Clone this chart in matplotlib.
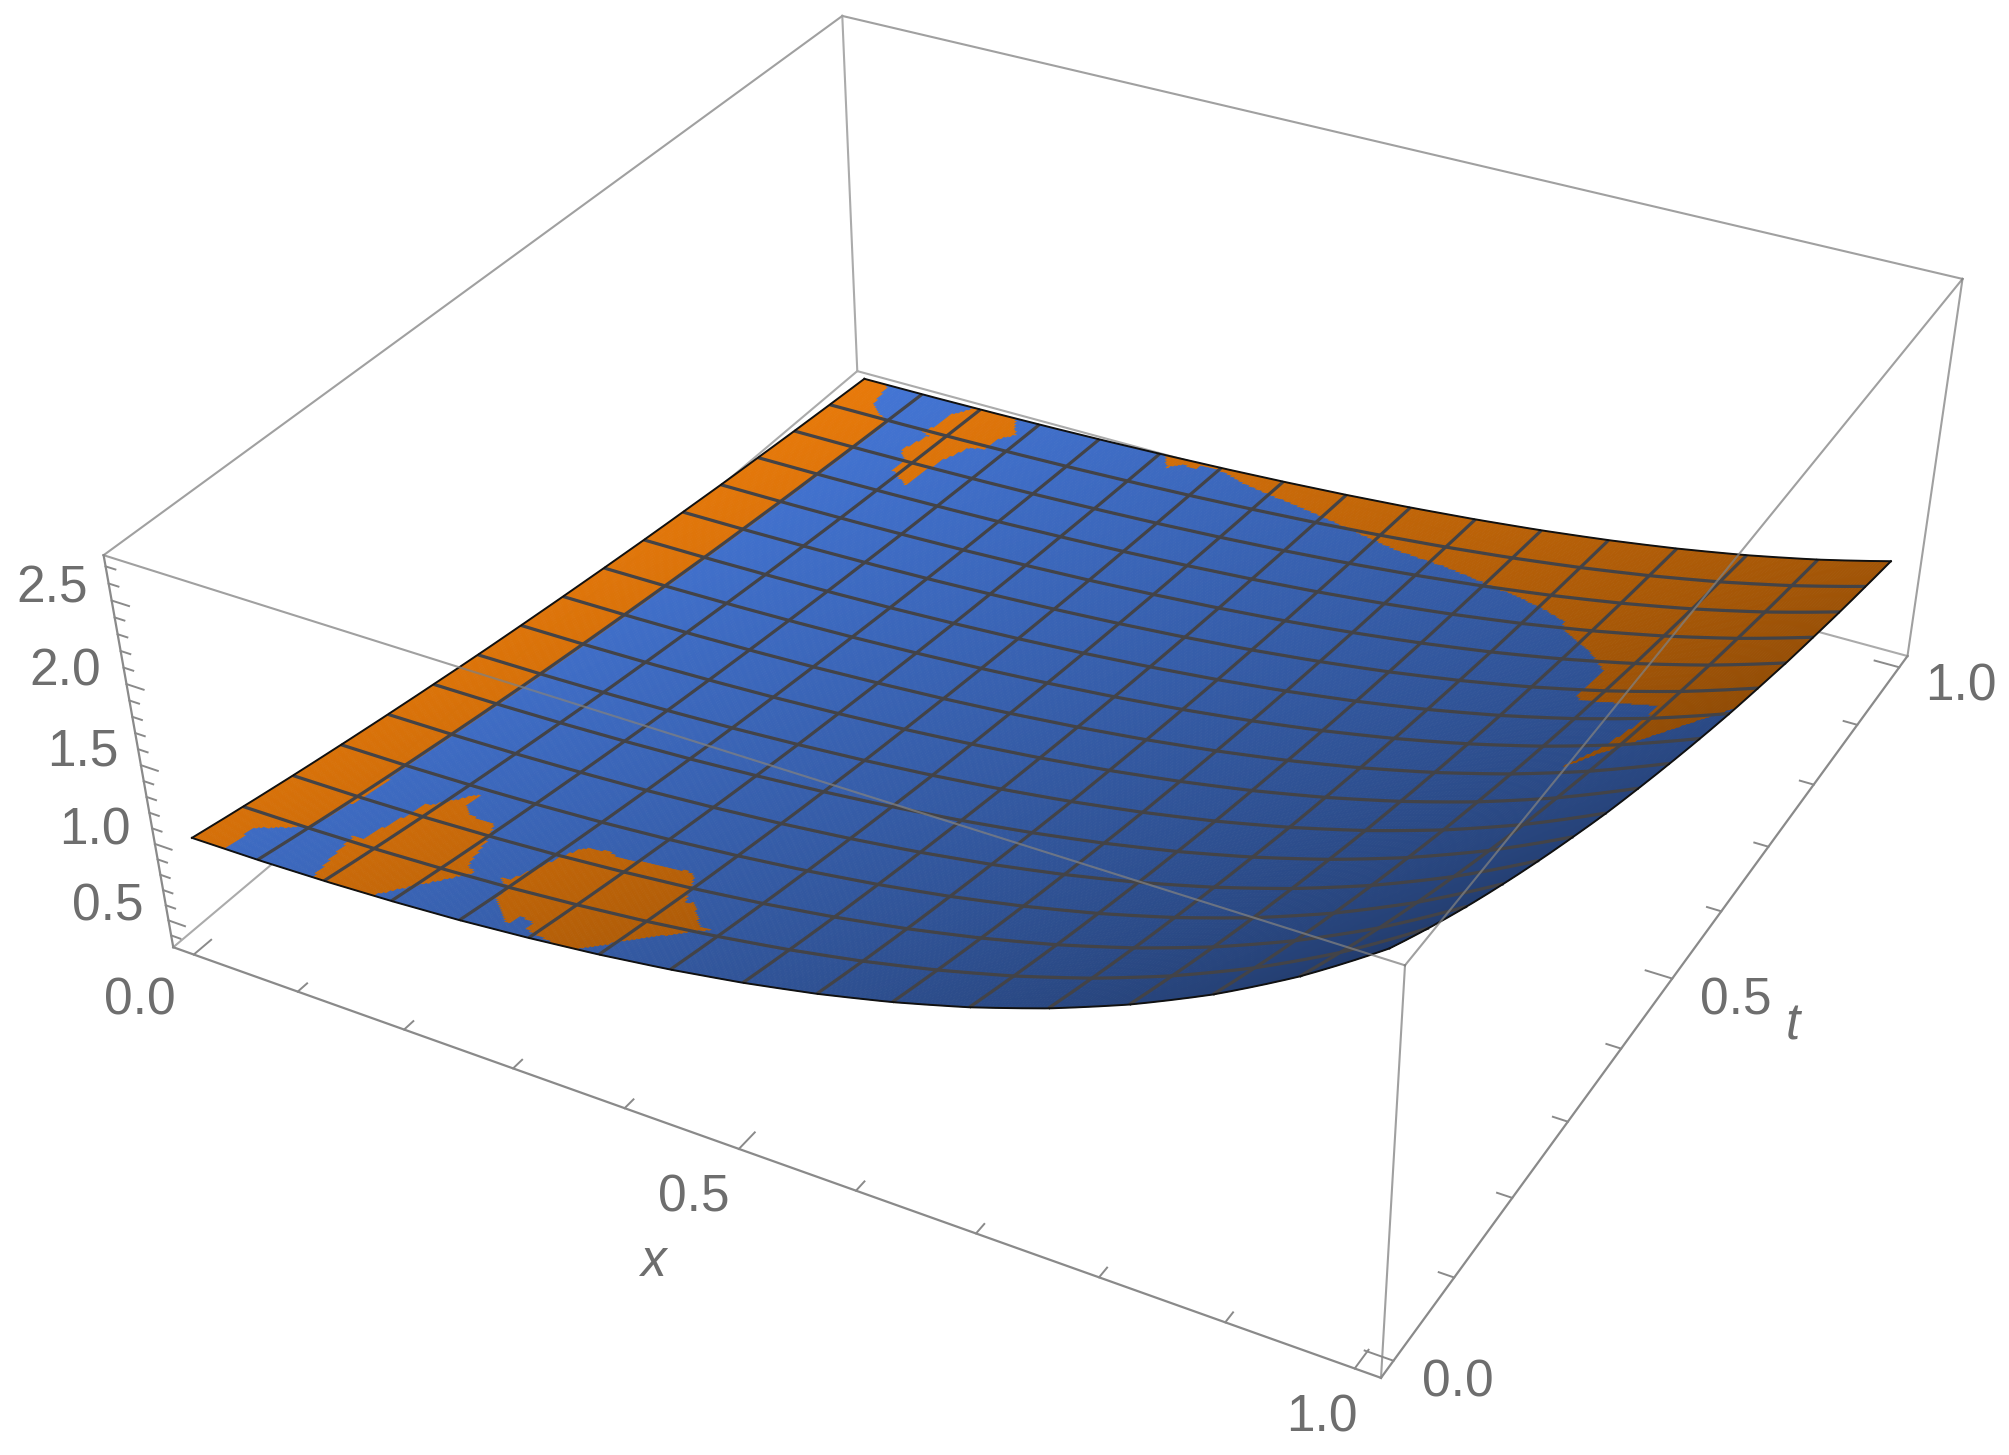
import numpy as np
import matplotlib
matplotlib.use("Agg")
import matplotlib.pyplot as plt
from matplotlib.path import Path
from mpl_toolkits.mplot3d.art3d import Poly3DCollection

W_PX, H_PX = 2009, 1455

# Surface height read along the two front edges, at each of the 17 mesh nodes
height_along_x = [1.000,1.004,1.016,1.036,1.064,1.103,1.151,1.211,1.284,1.372,1.478,1.604,1.755,1.935,2.150,2.408,2.718]
decay_along_t = [1.000,0.939,0.882,0.829,0.779,0.732,0.687,0.646,0.607,0.570,0.535,0.503,0.472,0.444,0.417,0.392,0.368]

# Regions where the orange sheet shows, in mesh-cell units (x cell, t cell)
orange_left_strip = [(0,0),(0.5,0),(0.47,0.62),(1.0,1.03),(1.08,2),(1.05,3),(1.05,8),(1.05,13),(1.05,14.95),(0.8,15.1),(0.55,15.36),(0.42,16),(0,16)]
orange_top_patch = [(1.91,16),(1.72,15.63),(1.71,15.22),(1.64,14.92),(1.78,14.87),(1.66,14.26),(1.86,14.05),(1.87,13.66),(2.31,13.32),(2.30,13.71),(2.32,14.19),(2.49,14.83),(2.69,14.88),(2.69,15.21),(2.86,15.52),(2.6,16)]
orange_right = [(5.08,16),(5.31,15.64),(5.49,15.84),(5.68,15.76),(5.72,15.91),(6.05,15.90),(6.47,15.70),(8.0,15.2),(9.48,14.61),(10.26,14.39),(10.8,14.17),(11.46,13.87),(12,13.59),(12.54,13.19),(12.59,12.97),(13.04,12.54),(13.35,12.18),(13.72,11.66),(13.72,10.78),(13.8,10.64),(14.9,10.46),(14.95,10),(14.8,8.9),(14.55,8.1),(14.85,8.65),(16,10.2),(16,16)]
orange_low_left = [(1.83,0),(1.72,0.51),(1.6,1.12),(1.73,1.14),(1.84,2.06),(1.84,2.27),(1.92,2.32),(2.27,2.86),(2.3,2.5),(2.51,2.32),(2.89,2.27),(3.02,2.01),(3.25,1.21),(3.43,1.11),(3.33,0.94),(2.72,0)]
orange_low_mid = [(3.75,1.18),(3.9,1.15),(4.11,2.0),(4.21,2.30),(4.56,2.38),(4.68,2.29),(5.71,2.36),(5.85,2.27),(6.14,1.62),(6.24,1.67),(6.67,1.13),(6.84,1.12),(6.15,0.52),(5.71,0.0),(5.34,0.0),(4.84,0.17),(4.85,0.32),(4.58,0.44),(4.56,0.18),(4.07,0.64),(3.98,0.99)]
orange_regions = [orange_left_strip, orange_top_patch, orange_right, orange_low_left, orange_low_mid]

# Axis ticks
z_major = [0.5, 1.0, 1.5, 2.0, 2.5]
z_minor = [0.4,0.6,0.7,0.8,0.9,1.1,1.2,1.3,1.4,1.6,1.7,1.8,1.9,2.1,2.2,2.3,2.4,2.6,2.7]
xt_major = [0.0, 0.5, 1.0]
xt_minor = [0.1,0.2,0.3,0.4,0.6,0.7,0.8,0.9]
x_lo, x_hi, t_lo, t_hi = -0.02, 1.02, -0.02, 1.02
z_lo, z_hi = 0.321, 2.765

BLUE = np.array([68, 118, 214]) / 255
ORANGE = np.array([232, 122, 10]) / 255
# brightness at the surface corners: rows t=0,1; columns x=0,1
shade_corners = np.array([[0.92, 0.50], [1.00, 0.70]])

# Camera calibration: box and surface corners located on the picture
calib = [
 ((x_lo,t_lo,z_lo),(172,948)), ((x_lo,t_lo,z_hi),(104,554)),
 ((x_hi,t_lo,z_lo),(1384,1377)), ((x_hi,t_lo,z_hi),(1411,963)),
 ((x_hi,t_hi,z_lo),(1907,656)), ((x_hi,t_hi,z_hi),(1964,279)),
 ((x_lo,t_hi,z_lo),(858,371)), ((x_lo,t_hi,z_hi),(843,16)),
 ((0,0,1.0),(193,838)), ((1,1,1.0),(1890,561)),
 ((0,1,0.368),(863,379)), ((1,0,2.718),(1380,952)),
]
A = []; b = []
for (X,Y,Z),(px,py) in calib:
    dy = H_PX - py
    A.append([X,Y,Z,1,0,0,0,0,-px*X,-px*Y,-px*Z]); b.append(px)
    A.append([0,0,0,0,X,Y,Z,1,-dy*X,-dy*Y,-dy*Z]); b.append(dy)
sol = np.linalg.lstsq(np.array(A,float), np.array(b,float), rcond=None)[0]
P = np.array([sol[:4], sol[4:8], list(sol[8:])+[1.0]])

fig = plt.figure(figsize=(W_PX/100, H_PX/100), dpi=100, facecolor="white")
ax = fig.add_axes([0,0,1,1], projection="3d")
ax.set_axis_off()
ax.computed_zorder = False
ax.set_proj_type("ortho")
ax.apply_aspect = lambda position=None: None

def custom_proj():
    D = ax.transData.inverted().get_matrix()
    Q = D @ P
    return np.array([Q[0], Q[1], P[2] - np.array([0,0,0,0.5]), Q[2]])
ax.get_proj = custom_proj

# Fine surface sheet
surface_z = np.outer(decay_along_t, height_along_x)
n_sub = 24
n_cells = (surface_z.shape[0]-1)*n_sub
g = np.linspace(0, 16, n_cells+1)
nodes = np.arange(17)
ZF = np.outer(np.exp(np.interp(g, nodes, np.log(decay_along_t))),
              np.exp(np.interp(g, nodes, np.log(height_along_x))))
XF, TF = np.meshgrid(g/16, g/16)

cu, cv = np.meshgrid((g[:-1]+g[1:])/2, (g[:-1]+g[1:])/2)
pts = np.column_stack([cu.ravel(), cv.ravel()])
mask = np.zeros(len(pts), bool)
for reg in orange_regions:
    mask |= Path(np.array(reg)).contains_points(pts)
mask = mask.reshape(cu.shape)
sx, st = cu/16, cv/16
shade = (shade_corners[0,0]*(1-sx)*(1-st) + shade_corners[0,1]*sx*(1-st)
         + shade_corners[1,0]*(1-sx)*st + shade_corners[1,1]*sx*st)
cols = np.where(mask[...,None], ORANGE, BLUE)*shade[...,None]
cols = cols.reshape(-1,3)

verts = np.stack([
    np.stack([XF[:-1,:-1],TF[:-1,:-1],ZF[:-1,:-1]],-1),
    np.stack([XF[:-1,1:],TF[:-1,1:],ZF[:-1,1:]],-1),
    np.stack([XF[1:,1:],TF[1:,1:],ZF[1:,1:]],-1),
    np.stack([XF[1:,:-1],TF[1:,:-1],ZF[1:,:-1]],-1)],axis=2).reshape(-1,4,3)
sheet = Poly3DCollection(list(verts), facecolors=cols, edgecolors=cols, linewidths=0.5, zorder=2)
ax.add_collection3d(sheet, autolim=False)

# Mesh and outline
MESH = "#434347"
for k in range(1,16):
    idx = k*n_sub
    ax.plot(XF[:,idx],TF[:,idx],ZF[:,idx],color=MESH,lw=2.3,zorder=3,solid_capstyle="butt")
    ax.plot(XF[idx,:],TF[idx,:],ZF[idx,:],color=MESH,lw=2.3,zorder=3,solid_capstyle="butt")
for xs,ts,zs in [(XF[:,0],TF[:,0],ZF[:,0]),(XF[:,-1],TF[:,-1],ZF[:,-1]),
                 (XF[0,:],TF[0,:],ZF[0,:]),(XF[-1,:],TF[-1,:],ZF[-1,:])]:
    ax.plot(xs,ts,zs,color="#111111",lw=1.4,zorder=4)

# Box
LIGHT, DARK = "#ababab", "#8a8a8a"
back = [((x_lo,t_lo,z_lo),(x_lo,t_hi,z_lo)),((x_lo,t_hi,z_lo),(x_hi,t_hi,z_lo)),((x_lo,t_hi,z_lo),(x_lo,t_hi,z_hi))]
top_back = [((x_hi,t_hi,z_hi),(x_lo,t_hi,z_hi)),((x_lo,t_hi,z_hi),(x_lo,t_lo,z_hi)),
            ((x_hi,t_lo,z_lo),(x_hi,t_lo,z_hi)),((x_hi,t_hi,z_lo),(x_hi,t_hi,z_hi))]
top_front = [((x_lo,t_lo,z_hi),(x_hi,t_lo,z_hi)),((x_hi,t_lo,z_hi),(x_hi,t_hi,z_hi))]
axes_edges = [((x_lo,t_lo,z_lo),(x_hi,t_lo,z_lo)),((x_hi,t_lo,z_lo),(x_hi,t_hi,z_lo)),((x_lo,t_lo,z_lo),(x_lo,t_lo,z_hi))]
for a,b_ in back:
    ax.plot(*zip(a,b_),color=LIGHT,lw=1.5,zorder=1)
for a,b_ in top_back:
    ax.plot(*zip(a,b_),color="#a0a0a0",lw=1.5,zorder=5)
for a,b_ in top_front:
    ax.plot(*zip(a,b_),color="#808080",alpha=0.75,lw=1.5,zorder=5)
for a,b_ in axes_edges:
    ax.plot(*zip(a,b_),color=DARK,lw=1.6,zorder=5)

# Ticks
for v in z_major:
    ax.plot([x_lo,x_lo+0.016],[t_lo,t_lo],[v,v],color=DARK,lw=1.4,zorder=5)
for v in z_minor:
    ax.plot([x_lo,x_lo+0.009],[t_lo,t_lo],[v,v],color=DARK,lw=1.4,zorder=5)
for vals,ln in ((xt_major,0.022),(xt_minor,0.012)):
    for v in vals:
        ax.plot([v,v],[t_lo,t_lo+ln],[z_lo,z_lo],color=DARK,lw=1.4,zorder=5)
        ax.plot([x_hi,x_hi-ln],[v,v],[z_lo,z_lo],color=DARK,lw=1.4,zorder=5)

ax.set_xlim(x_lo,x_hi); ax.set_ylim(t_lo,t_hi); ax.set_zlim(z_lo,z_hi)

# Labels
TXT = "#6e6e6e"
FS = 37
labels = [("2.5",52,589),("2.0",65,672),("1.5",83,752),("1.0",95,831),("0.5",108,907),
          ("0.0",140,1001),("0.5",694,1198),("1.0",1322,1418),
          ("0.0",1458,1383),("0.5",1736,1001),("1.0",1961,687)]
for s,px,py in labels:
    fig.text(px/W_PX,1-py/H_PX,s,ha="center",va="center",fontsize=FS,color=TXT,family="Liberation Sans")
fig.text(653/W_PX,1-1263/H_PX,"x",ha="center",va="center",fontsize=FS,color=TXT,family="Liberation Sans",style="italic")
fig.text(1793/W_PX,1-1026/H_PX,"t",ha="center",va="center",fontsize=FS,color=TXT,family="Liberation Sans",style="italic")

fig.savefig("out.png",dpi=100,facecolor="white")
